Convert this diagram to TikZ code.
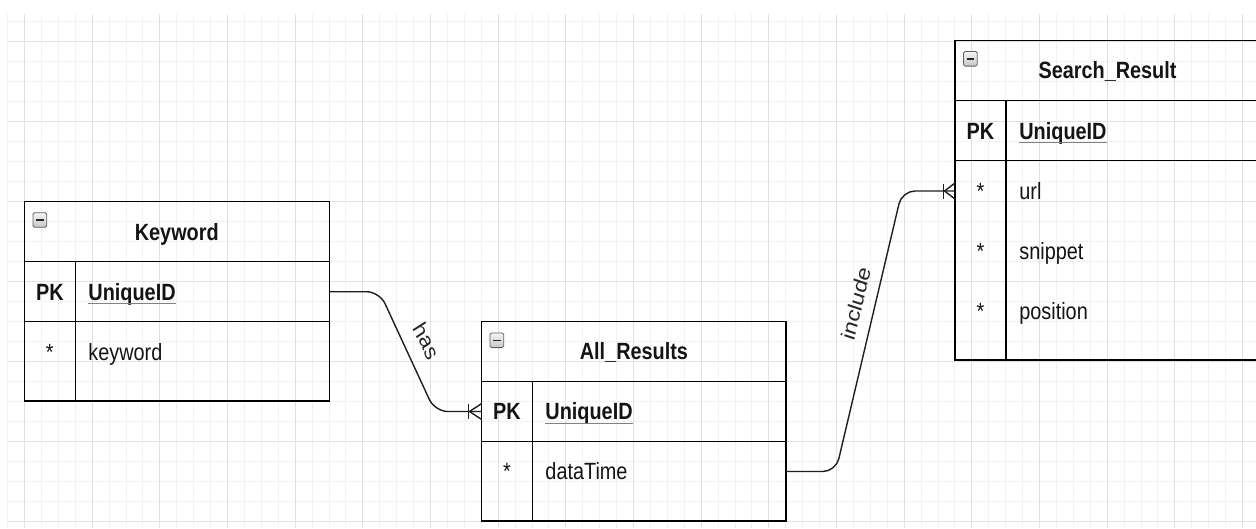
\documentclass[tikz,border=0pt]{standalone}
\usepackage{fontspec}
\setmainfont{Liberation Sans}
\begin{document}
\begin{tikzpicture}[x=1.183432pt, y=-1pt, xscale=0.845,
  every node/.append style={transform shape, inner sep=0pt, text=black!92},
  txt/.style={anchor=base, font=\fontsize{23.5}{28}\selectfont},
  title/.style={anchor=base, font=\fontsize{23.5}{28}\selectfont\bfseries},
  keyb/.style={anchor=base, font=\fontsize{23.5}{28}\selectfont\bfseries},
  fieldb/.style={anchor=base west, font=\fontsize{23.5}{28}\selectfont\bfseries},
  field/.style={anchor=base west, font=\fontsize{23.5}{28}\selectfont},
  lbl/.style={font=\fontsize{23.5}{28}\selectfont, text=black!85},
  gridminor/.style={draw=black!5, line width=1pt},
  gridmajor/.style={draw=black!12, line width=1pt},
  tbl/.style={draw=black, line width=1.5pt},
  conn/.style={draw=black!88, line width=1.4pt, rounded corners=13pt},
  foot/.style={draw=black!88, line width=1.4pt},
  uline/.style={draw=black!50, line width=1.4pt},
  icon/.style={top color=gray!8, bottom color=gray!45, draw=gray!75!black, line width=0.8pt, rounded corners=1.5pt},
  iconbar/.style={draw=black!85, line width=1.6pt}
]
\useasboundingbox (0,0) rectangle (1256,528);
\clip (0,0) rectangle (1256,528);
\fill[white] (0,0) rectangle (1256,528);

% grid
\foreach \i in {0,...,73} {\draw[gridminor] ({7.58+16.917*\i},14) -- ({7.58+16.917*\i},528);}
\foreach \j in {1,...,26} {\draw[gridminor] (7,{1.7+20*\j}) -- (1256,{1.7+20*\j});}
\foreach \i in {1,5,...,73} {\draw[gridmajor] ({7.58+16.917*\i},14) -- ({7.58+16.917*\i},528);}
\foreach \j in {2,6,...,26} {\draw[gridmajor] (7,{1.7+20*\j}) -- (1256,{1.7+20*\j});}

% ---------- Keyword ----------
\draw[tbl] (24.3,201.7) rectangle (329.3,401.2);
\draw[tbl] (24.3,261.7) -- (329.3,261.7);
\draw[tbl] (24.3,321.7) -- (329.3,321.7);
\draw[tbl] (75.3,261.7) -- (75.3,401.2);
\shadedraw[icon] (33,212.7) rectangle (46.7,227.3);
\draw[iconbar] (36,220) -- (43.7,220);
\node[title] (kwtitle) at (176.8,240.1) {Keyword};
\node[keyb] (kwpk) at (49.8,300.1) {PK};
\node[fieldb] (kwid) at (88.3,300.1) {UniqueID};
\draw[uline] ([yshift=-3.5pt]kwid.base west) -- ([yshift=-3.5pt]kwid.base east);
\node[txt] (kwst) at (49.8,360.1) {*};
\node[field] (kwkw) at (88.3,360.1) {keyword};

% ---------- All_Results ----------
\draw[tbl] (481.7,321.5) rectangle (786,521);
\draw[tbl] (481.7,381.5) -- (786,381.5);
\draw[tbl] (481.7,441.5) -- (786,441.5);
\draw[tbl] (532.3,381.5) -- (532.3,521);
\shadedraw[icon] (490,333) rectangle (503.7,347.6);
\draw[iconbar] (493,340.3) -- (500.7,340.3);
\node[title] (artitle) at (633.9,359.9) {All\_Results};
\node[keyb] (arpk) at (507,419.9) {PK};
\node[fieldb] (arid) at (545.3,419.9) {UniqueID};
\draw[uline] ([yshift=-3.5pt]arid.base west) -- ([yshift=-3.5pt]arid.base east);
\node[txt] (arst) at (507,479.9) {*};
\node[field] (ardt) at (545.3,479.9) {dataTime};

% ---------- Search_Result ----------
\draw[tbl] (955,40.5) rectangle (1260,360);
\draw[tbl] (955,100.5) -- (1260,100.5);
\draw[tbl] (955,160.7) -- (1260,160.7);
\draw[tbl] (1006,100.5) -- (1006,360);
\shadedraw[icon] (963.5,51.5) rectangle (977.2,66.1);
\draw[iconbar] (966.5,58.8) -- (974.2,58.8);
\node[title] (srtitle) at (1107.5,78.9) {Search\_Result};
\node[keyb] (srpk) at (980.5,139) {PK};
\node[fieldb] (srid) at (1019.2,139) {UniqueID};
\draw[uline] ([yshift=-3.5pt]srid.base west) -- ([yshift=-3.5pt]srid.base east);
\node[txt] (srst1) at (980.5,199.1) {*};
\node[field] (srurl) at (1019.2,199.1) {url};
\node[txt] (srst2) at (980.5,259.1) {*};
\node[field] (srsn) at (1019.2,259.1) {snippet};
\node[txt] (srst3) at (980.5,319.1) {*};
\node[field] (srpos) at (1019.2,319.1) {position};

% ---------- connectors ----------
\coordinate (kwE) at (329.3,291.7);
\coordinate (arW) at (481.7,411.5);
\coordinate (arE) at (786,471.5);
\coordinate (srW) at (955,191);

\draw[conn] (kwE) -- (379.5,291.7) -- (434.9,411.5) -- (arW);
\draw[foot] (468.3,404) -- (468.3,419);
\draw[foot] (469.5,411.5) -- (481.7,403.5);
\draw[foot] (469.5,411.5) -- (481.7,419.5);

\draw[conn] (arE) -- (835.8,471.5) -- (902,191) -- (srW);
\draw[foot] (943.3,183.5) -- (943.3,198.5);
\draw[foot] (944.5,191) -- (955,183);
\draw[foot] (944.5,191) -- (955,199);

\node[lbl, rotate=-61.4] (haslbl) at (426.7,341) {has};
\node[lbl, rotate=74.4] (inclbl) at (856,303) {include};
\end{tikzpicture}
\end{document}
